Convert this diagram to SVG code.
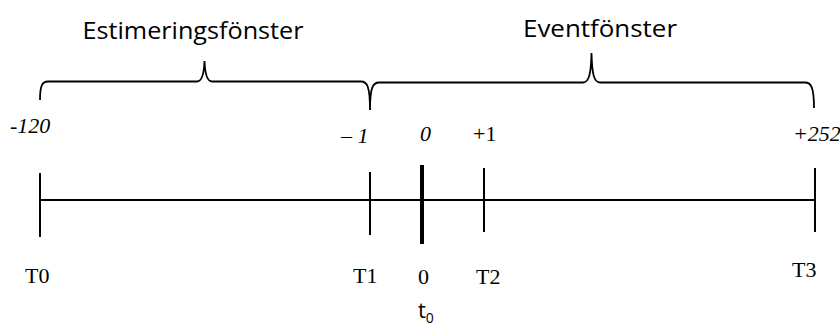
<svg xmlns="http://www.w3.org/2000/svg" width="840" height="326" viewBox="0 0 840 326">
<style>
.ln{stroke:#000;stroke-width:2;fill:none}
.br{stroke:#000;stroke-width:1.8;fill:none}
.sans{font-family:"Open Sans","Liberation Sans",sans-serif;fill:#000}
.ser{font-family:"Liberation Serif","Times New Roman",serif;font-size:22px;fill:#000}
.it{font-style:italic}
</style>
<rect width="840" height="326" fill="#fff"/>
<g id="estimation-window">
<path class="br" d="M40,100 C40,86 42,81.5 48,81.5 L197,81.5 C202,81.5 204,74 204.5,61 C205,74 207,81.5 212,81.5 L361,81.5 C367,81.5 370,86 370,110"/>
<text class="sans" x="193" y="39" font-size="23" text-anchor="middle" textLength="221" lengthAdjust="spacingAndGlyphs">Estimeringsfönster</text>
</g>
<g id="event-window">
<path class="br" d="M370,110 C370,87 373,82.5 379,82.5 L583,82.5 C589,82.5 591,74 591.5,53 C592,74 594,82.5 600,82.5 L805,82.5 C811,82.5 814,87 814,108"/>
<text class="sans" x="600" y="37" font-size="23" text-anchor="middle" textLength="154" lengthAdjust="spacingAndGlyphs">Eventfönster</text>
</g>
<g id="axis">
<line class="ln" x1="40" y1="200" x2="815" y2="200"/>
</g>
<g id="T0">
<line class="ln" x1="40" y1="173" x2="40" y2="237"/>
<text class="ser it" x="10" y="133">-120</text>
<text class="ser" x="25" y="283" font-size="23">T0</text>
</g>
<g id="T1">
<line class="ln" x1="370" y1="172" x2="370" y2="235"/>
<text class="ser it" x="341" y="143">– 1</text>
<text class="ser" x="353" y="283" font-size="23">T1</text>
</g>
<g id="t0">
<line x1="422" y1="165" x2="422" y2="244" stroke="#000" stroke-width="4"/>
<text class="ser it" x="420" y="141">0</text>
<text class="ser" x="418" y="284">0</text>
<text class="sans" x="418" y="318" font-size="22">t<tspan font-size="14" dy="5">0</tspan></text>
</g>
<g id="T2">
<line class="ln" x1="484" y1="168" x2="484" y2="232"/>
<text class="ser" x="473" y="141">+1</text>
<text class="ser" x="476" y="284" font-size="23">T2</text>
</g>
<g id="T3">
<line class="ln" x1="815" y1="168" x2="815" y2="232"/>
<text class="ser it" x="793" y="141">+252</text>
<text class="ser" x="792" y="277" font-size="23">T3</text>
</g>
</svg>
